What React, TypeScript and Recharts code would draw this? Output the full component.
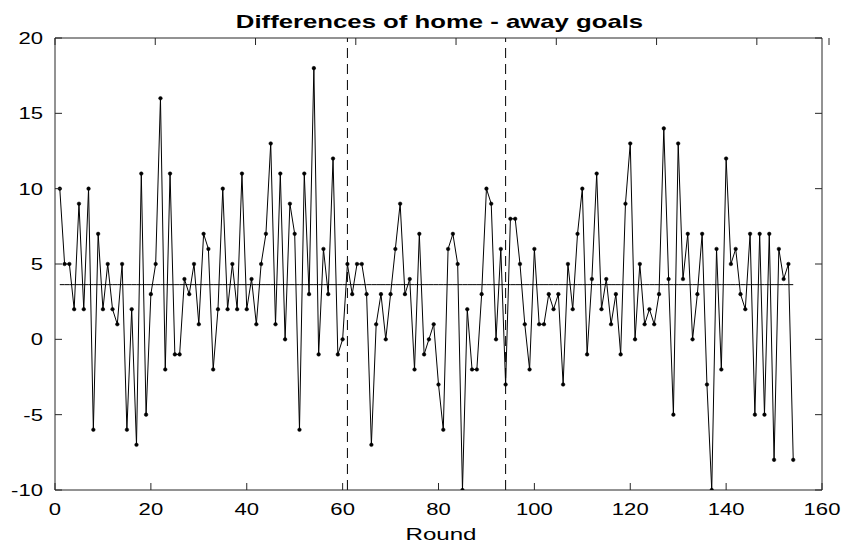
import { LineChart, Line, XAxis, YAxis, ReferenceLine, Label } from "recharts";

const goalDiffs = [
  10, 5, 5, 2, 9, 2, 10, -6, 7, 2,
  5, 2, 1, 5, -6, 2, -7, 11, -5, 3,
  5, 16, -2, 11, -1, -1, 4, 3, 5, 1,
  7, 6, -2, 2, 10, 2, 5, 2, 11, 2,
  4, 1, 5, 7, 13, 1, 11, 0, 9, 7,
  -6, 11, 3, 18, -1, 6, 3, 12, -1, 0,
  5, 3, 5, 5, 3, -7, 1, 3, 0, 3,
  6, 9, 3, 4, -2, 7, -1, 0, 1, -3,
  -6, 6, 7, 5, -10, 2, -2, -2, 3, 10,
  9, 0, 6, -3, 8, 8, 5, 1, -2, 6,
  1, 1, 3, 2, 3, -3, 5, 2, 7, 10,
  -1, 4, 11, 2, 4, 1, 3, -1, 9, 13,
  0, 5, 1, 2, 1, 3, 14, 4, -5, 13,
  4, 7, 0, 3, 7, -3, -10, 6, -2, 12,
  5, 6, 3, 2, 7, -5, 7, -5, 7, -8,
  6, 4, 5, -8,
];
const meanLevel = 3.63;
const splitRounds = [61, 94];
const xTicks = [0, 20, 40, 60, 80, 100, 120, 140, 160];
const yTicks = [-10, -5, 0, 5, 10, 15, 20];

const data = goalDiffs.map((d, i) => ({ round: i + 1, diff: d, mean: meanLevel }));

const font = "'Liberation Sans', Arial, Helvetica, sans-serif";
const frame = "#262626";
const TICK = 7;
const TICK_STRETCH = 1.3;
const LABEL_STRETCH = 1.42;

// wide, Helvetica-like text: stretched horizontally around its anchor
const Wide = ({ x, y, s, anchor, size, bold, children }: any) => (
  <text
    transform={`translate(${x},${y}) scale(${s},1)`}
    textAnchor={anchor}
    fontSize={size}
    fontWeight={bold ? "bold" : "normal"}
    fontFamily={font}
    fill="#000"
  >
    {children}
  </text>
);

// inward tick marks + labels, drawn by hand (MATLAB-style box)
const BottomTick = (p: any) => (
  <g>
    <line x1={p.x} x2={p.x} y1={p.y} y2={p.y - TICK} stroke={frame} />
    <Wide x={p.x} y={p.y + 25} s={TICK_STRETCH} anchor="middle" size={17}>
      {p.payload.value}
    </Wide>
  </g>
);

const TopTick = (p: any) => (
  <line x1={p.x} x2={p.x} y1={p.y} y2={p.y + TICK} stroke={frame} />
);

const LeftTick = (p: any) => (
  <g>
    <line x1={p.x} x2={p.x + TICK} y1={p.y} y2={p.y} stroke={frame} />
    <Wide x={p.x - 12} y={p.y + 6} s={TICK_STRETCH} anchor="end" size={17}>
      {p.payload.value}
    </Wide>
  </g>
);

const RightTick = (p: any) => (
  <line x1={p.x} x2={p.x - TICK} y1={p.y} y2={p.y} stroke={frame} />
);

export default function App() {
  return (
    <div style={{ position: "absolute", left: 0, top: 0, width: 841, height: 543, background: "#fff" }}>
      <LineChart
        width={841}
        height={543}
        data={data}
        margin={{ top: 0, right: 0, left: 0, bottom: 0 }}
        style={{ fontFamily: font }}
      >
        <XAxis
          dataKey="round"
          type="number"
          domain={[0, 160]}
          ticks={xTicks}
          allowDataOverflow
          height={53}
          tickSize={0}
          tickMargin={0}
          axisLine={{ stroke: frame }}
          tickLine={false}
          tick={<BottomTick />}
        >
          <Label
            content={(props: any) => {
              const vb = props.viewBox;
              return (
                <Wide x={vb.x + vb.width / 2 + 2.5} y={540} s={LABEL_STRETCH} anchor="middle" size={17}>
                  Round
                </Wide>
              );
            }}
          />
        </XAxis>
        <XAxis
          xAxisId="top"
          orientation="top"
          type="number"
          domain={[0, 160]}
          ticks={xTicks}
          allowDataOverflow
          height={38}
          tickSize={0}
          tickMargin={0}
          axisLine={{ stroke: frame }}
          tickLine={false}
          tick={<TopTick />}
        >
          <Label
            content={(props: any) => {
              const vb = props.viewBox;
              return (
                <Wide x={vb.x + vb.width / 2 + 1} y={28} s={1.43} anchor="middle" size={18} bold>
                  Differences of home - away goals
                </Wide>
              );
            }}
          />
        </XAxis>
        <YAxis
          type="number"
          domain={[-10, 20]}
          ticks={yTicks}
          allowDataOverflow
          width={55}
          tickSize={0}
          tickMargin={0}
          axisLine={{ stroke: frame }}
          tickLine={false}
          tick={<LeftTick />}
        />
        <YAxis
          yAxisId="right"
          orientation="right"
          type="number"
          domain={[-10, 20]}
          ticks={yTicks}
          allowDataOverflow
          width={19}
          tickSize={0}
          tickMargin={0}
          axisLine={{ stroke: frame }}
          tickLine={false}
          tick={<RightTick />}
        />
        {splitRounds.map((r) => (
          <ReferenceLine key={r} x={r} stroke="#000" strokeWidth={1} strokeDasharray="10 6" />
        ))}
        <Line
          dataKey="mean"
          stroke="#000"
          strokeWidth={1}
          dot={false}
          activeDot={false}
          isAnimationActive={false}
        />
        <Line
          dataKey="diff"
          stroke="#000"
          strokeWidth={1}
          dot={{ r: 1.8, fill: "#000", stroke: "#000", strokeWidth: 0.5 }}
          activeDot={false}
          isAnimationActive={false}
        />
      </LineChart>
    </div>
  );
}
